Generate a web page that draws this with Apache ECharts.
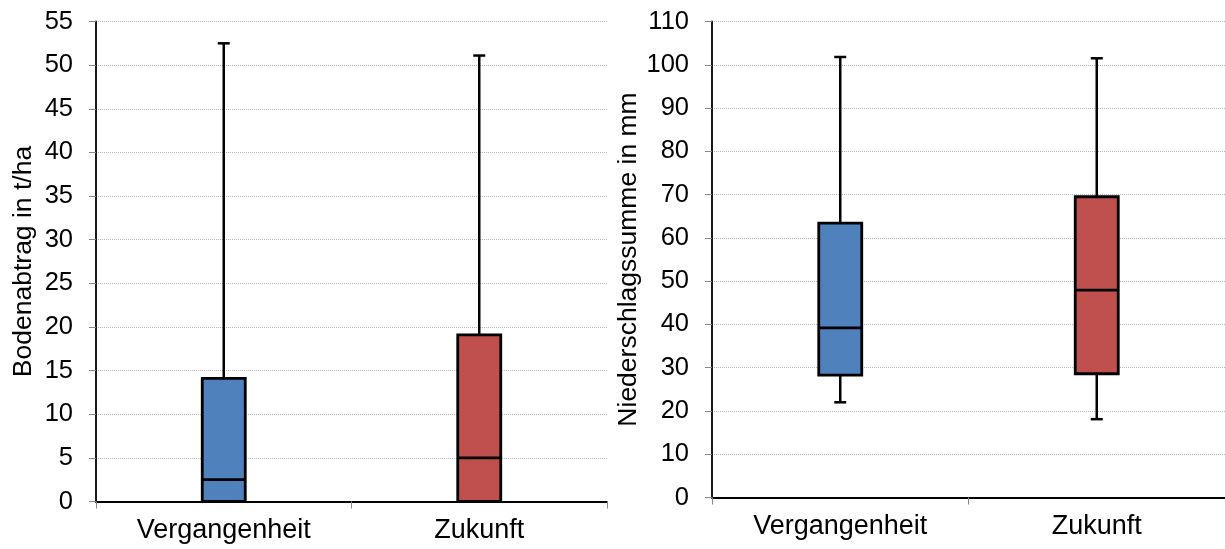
<!DOCTYPE html>
<html>
<head>
<meta charset="utf-8">
<script src="https://cdn.jsdelivr.net/npm/echarts@6/dist/echarts.min.js"></script>
<style>
html,body{margin:0;padding:0;background:#fff;}
#chart{width:1225px;height:549px;}
</style>
</head>
<body>
<div id="chart"></div>
<script>
// Categories
const categories = ['Vergangenheit', 'Zukunft'];
// Boxplot stats: [min, Q1, median, Q3, max]
const soilLossPast   = [0, 0, 2.5, 14.1, 52.5];
const soilLossFuture = [0, 0, 5.0, 19.1, 51.1];
const precipPast     = [22.0, 28.3, 39.2, 63.4, 101.8];
const precipFuture   = [18.1, 28.6, 47.9, 69.5, 101.5];
// Axis titles
const leftAxisTitle  = 'Bodenabtrag in t/ha';
const rightAxisTitle = 'Niederschlagssumme in mm';
// Colours per category
const boxColors = ['#4F81BD', '#C0504D'];

const FONT = "'Liberation Sans', Arial, sans-serif";

function renderBox(params, api) {
  const idx = api.value(0);
  const pMin = api.coord([idx, api.value(1)]);
  const pQ1  = api.coord([idx, api.value(2)]);
  const pMed = api.coord([idx, api.value(3)]);
  const pQ3  = api.coord([idx, api.value(4)]);
  const pMax = api.coord([idx, api.value(5)]);
  const x = pMed[0];
  const hw = 21.5, cap = 6;
  const ls = {stroke: '#000', lineWidth: 2.5};
  return {
    type: 'group',
    children: [
      {type: 'line', shape: {x1: x, y1: pMax[1], x2: x, y2: pQ3[1]}, style: ls},
      {type: 'line', shape: {x1: x - cap, y1: pMax[1], x2: x + cap, y2: pMax[1]}, style: ls},
      {type: 'line', shape: {x1: x, y1: pMin[1], x2: x, y2: pQ1[1]}, style: ls},
      {type: 'line', shape: {x1: x - cap, y1: pMin[1], x2: x + cap, y2: pMin[1]}, style: ls},
      {type: 'rect', shape: {x: x - hw, y: pQ3[1], width: 2 * hw, height: pQ1[1] - pQ3[1]},
        style: {fill: boxColors[idx], stroke: '#000', lineWidth: 2.8}},
      {type: 'line', shape: {x1: x - hw, y1: pMed[1], x2: x + hw, y2: pMed[1]}, style: {stroke: '#000', lineWidth: 2.8}}
    ]
  };
}

function xAxisCfg(gridIndex) {
  return {
    type: 'category', gridIndex: gridIndex, data: categories,
    boundaryGap: true,
    axisLine: {show: true, lineStyle: {color: '#000', width: 1.8}},
    axisTick: {show: true, length: 7, lineStyle: {color: '#888'}},
    axisLabel: {fontFamily: FONT, fontSize: 27, color: '#000', margin: 16},
    splitLine: {show: false}
  };
}
function yAxisCfg(gridIndex, max, interval, name) {
  return {
    type: 'value', gridIndex: gridIndex, min: 0, max: max, interval: interval,
    name: name, nameLocation: 'middle', nameGap: 59,
    nameTextStyle: {fontFamily: FONT, fontSize: 26.5, color: '#000'},
    axisLine: {show: true, lineStyle: {color: '#000', width: 1.8}},
    axisTick: {show: true, length: 7, lineStyle: {color: '#888'}},
    axisLabel: {fontFamily: FONT, fontSize: 25.5, color: '#000', margin: 23},
    splitLine: {show: true, lineStyle: {color: '#b5b5b5', type: 'dotted', width: 1}}
  };
}

const chart = echarts.init(document.getElementById('chart'), null, {renderer: 'canvas'});
chart.setOption({
  animation: false,
  backgroundColor: '#fff',
  grid: [
    {left: 96, top: 21.5, width: 511, height: 480},
    {left: 712, top: 21.5, width: 513, height: 476}
  ],
  xAxis: [xAxisCfg(0), xAxisCfg(1)],
  yAxis: [yAxisCfg(0, 55, 5, leftAxisTitle), yAxisCfg(1, 110, 10, rightAxisTitle)],
  series: [
    {
      type: 'custom', xAxisIndex: 0, yAxisIndex: 0,
      renderItem: renderBox,
      encode: {x: 0, y: [1, 2, 3, 4, 5]},
      data: [[0].concat(soilLossPast), [1].concat(soilLossFuture)]
    },
    {
      type: 'custom', xAxisIndex: 1, yAxisIndex: 1,
      renderItem: renderBox,
      encode: {x: 0, y: [1, 2, 3, 4, 5]},
      data: [[0].concat(precipPast), [1].concat(precipFuture)]
    }
  ]
});
</script>
</body>
</html>
